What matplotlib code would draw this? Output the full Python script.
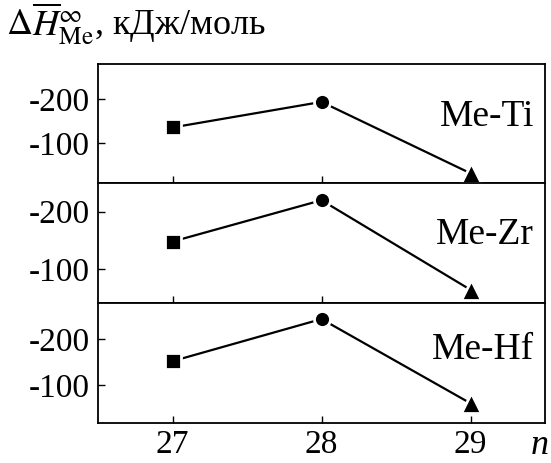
import matplotlib
matplotlib.use("Agg")
import matplotlib.pyplot as plt

n_values = [27, 28, 29]
panel_names = ["Me-Ti", "Me-Zr", "Me-Hf"]
ti_values = [-136, -194, -32]
zr_values = [-148, -220, -64]
hf_values = [-152, -244, -60]
series = [ti_values, zr_values, hf_values]
y_ticks = [-200, -100]
x_ticks = [27, 28, 29]
markers = ["s", "o", "^"]

plt.rcParams['font.family'] = ['Liberation Serif', 'DejaVu Serif']
plt.rcParams['mathtext.fontset'] = 'stix'

fig = plt.figure(figsize=(5.51, 4.63), dpi=100)
W, H = 551, 463
left, right = 98 / W, 545 / W
tops = [64, 183, 303]
bottoms = [183, 303, 423]
ylims = [(-10, -280), (-41, -250), (-17, -279)]
label_y = [0.555, 0.567, 0.61]

axes = []
for i in range(3):
    ax = fig.add_axes([left, 1 - bottoms[i] / H, right - left, (bottoms[i] - tops[i]) / H])
    vals = series[i]
    ax.plot(n_values, vals, color='black', lw=1.6, zorder=1)
    for x, y, m in zip(n_values, vals, markers):
        ms = {'s': 11.5, 'o': 11.5, '^': 14.5}[m]
        ax.plot([x], [y], marker=m, ms=ms, color='black', mec='white', mew=2.0, zorder=3, clip_on=False)
    ax.set_xlim(26.5, 29.5)
    ax.set_ylim(*ylims[i])
    ax.set_yticks(y_ticks)
    ax.set_yticklabels([str(t) for t in y_ticks])
    ax.set_xticks(x_ticks)
    ax.tick_params(direction='in', length=5, width=1, labelsize=24, pad=6)
    if i < 2:
        ax.tick_params(axis='x', labelbottom=False)
    for s in ax.spines.values():
        s.set_linewidth(1.3)
    ax.text(0.975, label_y[i], panel_names[i], transform=ax.transAxes, ha='right', va='center', fontsize=27)
    axes.append(ax)

axes[2].tick_params(axis='x', pad=5)

fig.text(6 / W, 1 - 24 / H, r'$\Delta\overline{H}_{\mathrm{Me}}^{\infty}$, кДж/моль', fontsize=26, ha='left', va='center')
fig.text(540 / W, 1 - 446 / H, 'n', fontsize=26, style='italic', ha='center', va='center')

fig.savefig('out.png', dpi=100)
